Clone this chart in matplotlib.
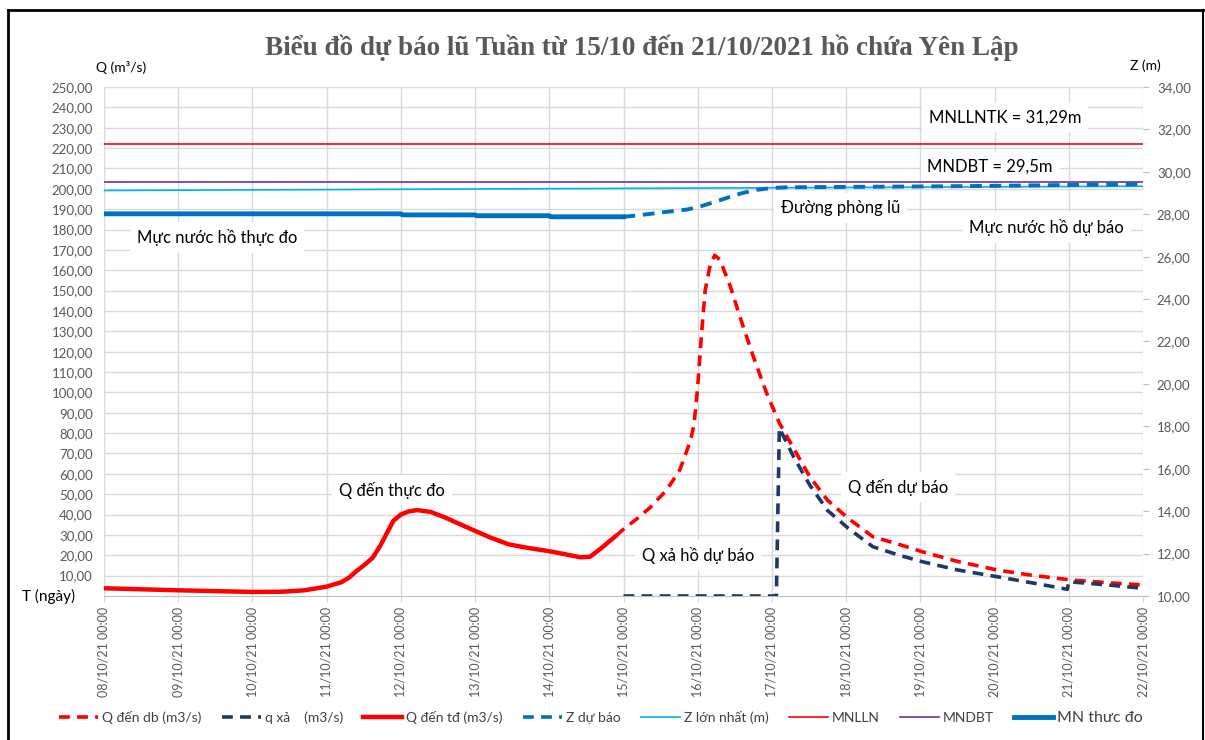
import matplotlib
matplotlib.use("Agg")
import matplotlib.pyplot as plt
from matplotlib.lines import Line2D
import pandas as pd
import numpy as np

# ---------------- data ----------------
START = "2021-10-08 00:00"

# Q đến thực đo (measured inflow) : day offsets, m3/s
q_td_days = [0.0, 0.5, 1.0, 1.5, 2.0, 2.4, 2.7, 3.0, 3.2, 3.3, 3.4, 3.5, 3.62, 3.72, 3.82, 3.9,
             4.0, 4.1, 4.22, 4.4, 4.6, 4.8, 5.0, 5.2, 5.45, 5.7, 6.0, 6.2, 6.42, 6.55, 6.7, 6.9]
q_td_vals = [3.8, 3.3, 2.8, 2.4, 2.0, 2.1, 2.8, 4.6, 6.8, 9.0, 12.2, 15.0, 18.8, 24.5, 31.5, 37.0,
             40.0, 41.5, 42.2, 41.3, 38.5, 35.2, 32.0, 28.8, 25.4, 23.7, 22.0, 20.6, 19.0, 19.3, 23.5, 29.6]

# Q đến dự báo (forecast inflow)
q_db_days = [6.9, 7.0, 7.2, 7.36, 7.58, 7.76, 7.9, 7.95, 8.0, 8.05, 8.1, 8.17, 8.23, 8.3, 8.44,
             8.57, 8.75, 8.93, 9.1, 9.3, 9.51, 9.75, 10.03, 10.36, 10.7, 11.02, 11.5, 12.03,
             12.5, 13.03, 13.5, 14.0]
q_db_vals = [29.6, 32.8, 38.5, 43.5, 52.0, 62.0, 76.0, 84.0, 103.0, 128.0, 150.0, 163.0, 167.4,
             165.0, 152.0, 137.0, 117.5, 99.5, 85.0, 72.0, 58.6, 47.0, 38.1, 29.1, 25.5, 21.8,
             17.0, 12.8, 10.2, 7.9, 6.6, 5.4]

# q xả (forecast discharge)
q_xa_days = [7.0, 9.06, 9.1, 9.29, 9.51, 9.75, 10.03, 10.36, 10.7, 11.02, 11.5, 12.03, 12.5,
             12.98, 13.0, 13.5, 14.0]
q_xa_vals = [0.0, 0.0, 82.5, 68.5, 54.5, 42.0, 33.2, 24.2, 20.2, 16.9, 12.8, 9.5, 6.5,
             3.3, 7.0, 5.5, 3.8]

# MN thực đo (measured water level, m)
z_td_days = [0.0, 4.0, 4.02, 5.0, 5.02, 6.0, 6.02, 7.0]
z_td_vals = [28.02, 28.02, 27.97, 27.97, 27.93, 27.93, 27.88, 27.88]

# Z dự báo (forecast water level, m)
z_db_days = [7.0, 7.2, 7.5, 7.85, 8.0, 8.2, 8.4, 8.6, 8.8, 9.0, 9.2, 10.0, 11.0, 12.0, 13.0, 14.0]
z_db_vals = [27.88, 27.95, 28.08, 28.22, 28.33, 28.55, 28.78, 29.0, 29.15, 29.24, 29.27, 29.29,
             29.31, 29.34, 29.38, 29.42]

# Z lớn nhất (flood-control line)
z_max_days = [0.0, 14.0]
z_max_vals = [29.12, 29.32]

MNLLN = 31.29
MNDBT = 29.5

q_ticks = list(range(0, 251, 10))
z_ticks = list(range(10, 35, 2))
date_ticks_days = list(range(0, 15))

# ---------------- helpers ----------------
t0 = pd.Timestamp(START)
def to_dt(days):
    return t0 + pd.to_timedelta(np.array(days, dtype=float), unit="D")

def vn(v):
    return f"{v:.2f}".replace(".", ",")

# ---------------- figure ----------------
SANS = ["Lato", "DejaVu Sans"]
GRAY = "#595959"
plt.rcParams["font.family"] = SANS

fig = plt.figure(figsize=(12.05, 7.4), dpi=100)
ax2 = fig.add_axes([104/1205, 1-596/740, (1143-104)/1205, (596-87)/740])
ax = ax2.twinx()
# ax = left (Q) axis drawn on top, ax2 = right (Z) axis
ax.yaxis.tick_left()
ax.yaxis.set_label_position("left")
ax2.yaxis.tick_right()
ax2.yaxis.set_label_position("right")

# outer frame (left, top, right)
fig.add_artist(Line2D([8/1205, 8/1205], [0, 1-10/740], transform=fig.transFigure, color="black", lw=2))
fig.add_artist(Line2D([8/1205, 1203/1205], [1-10/740, 1-10/740], transform=fig.transFigure, color="black", lw=2))
fig.add_artist(Line2D([1203/1205, 1203/1205], [0, 1-10/740], transform=fig.transFigure, color="black", lw=1.5))

xmin, xmax = to_dt([0])[0], to_dt([14])[0]
ax2.set_xlim(xmin, xmax)
ax.set_ylim(0, 250)
ax2.set_ylim(10, 34)

# grid (drawn on the bottom axes)
ax2.set_xticks(to_dt(date_ticks_days))
ax2.set_xticklabels([d.strftime("%d/%m/%y %H:%M") for d in to_dt(date_ticks_days)],
                    rotation=90, color=GRAY, fontsize=9)
ax2.xaxis.grid(True, color="#D9D9D9", lw=1)
for q in q_ticks[1:]:
    ax2.axhline(10 + q * 24 / 250, color="#D9D9D9", lw=1, zorder=0)
ax2.set_axisbelow(True)
ax2.tick_params(axis="x", length=4, color="#D9D9D9", pad=4)

ax.set_yticks(q_ticks)
ax.set_yticklabels(["" if v == 0 else vn(v) for v in q_ticks], color=GRAY, fontsize=9.5)
ax.tick_params(axis="y", length=0, pad=8)
ax2.set_yticks(z_ticks)
ax2.set_yticklabels([vn(v) for v in z_ticks], color=GRAY, fontsize=9.5)
ax2.tick_params(axis="y", length=4, color="#BFBFBF", pad=6)

for a in (ax, ax2):
    for s in ["top", "left", "right", "bottom"]:
        a.spines[s].set_visible(False)
ax2.spines["bottom"].set_visible(True)
ax2.spines["bottom"].set_color("#BFBFBF")

# ---------------- series ----------------
ax2.axhline(MNLLN, color="#FF0000", lw=1.2, zorder=3)
ax2.axhline(MNDBT, color="#7030A0", lw=1.2, zorder=3)
ax2.plot(to_dt(z_max_days), z_max_vals, color="#00B0F0", lw=1.2, zorder=3)
ax2.plot(to_dt(z_td_days), z_td_vals, color="#0070C0", lw=3.5, zorder=4)
ax2.plot(to_dt(z_db_days), z_db_vals, color="#0070C0", lw=2.8, ls=(0, (3, 2)), zorder=4)

ax.plot(to_dt(q_td_days), q_td_vals, color="#FF0000", lw=3.2, zorder=5, solid_capstyle="round")
ax.plot(to_dt(q_db_days), q_db_vals, color="#FF0000", lw=2.6, ls=(0, (3, 2)), zorder=5)
ax.plot(to_dt(q_xa_days), q_xa_vals, color="#1F3864", lw=2.6, ls=(0, (3, 2)), zorder=5)

# ---------------- texts ----------------
fig.text(642/1205, 1-48/740, "Biểu đồ dự báo lũ Tuần từ 15/10 đến 21/10/2021 hồ chứa Yên Lập",
         ha="center", va="center", fontsize=19.5, fontweight="bold", color=GRAY,
         family=["Liberation Serif", "DejaVu Serif"])
fig.text(96/1205, 1-68/740, "Q (m³/s)", ha="left", va="center", fontsize=10, color="black")
fig.text(1130/1205, 1-66/740, "Z (m)", ha="left", va="center", fontsize=10, color="black")
fig.text(22/1205, 1-596/740, "T (ngày)", ha="left", va="center", fontsize=11, color="black")

box = dict(boxstyle="square,pad=0.4", fc="white", ec="none")
def label(xd, qy, s):
    ax.text(to_dt([xd])[0], qy, s, ha="center", va="center", fontsize=12, color="black",
            bbox=box, zorder=10)

label(12.14, 235, "MNLLNTK = 31,29m")
label(11.94, 211, "MNDBT = 29,5m")
label(9.92, 190.5, "Đường phòng lũ")
label(12.7, 181, "Mực nước hồ dự báo")
label(1.52, 176, "Mực nước hồ thực đo")
label(3.88, 52, "Q đến thực đo")
label(10.7, 53.5, "Q đến dự báo")
label(8.0, 20, "Q xả hồ dự báo")

# ---------------- legend ----------------
handles = [
    Line2D([], [], color="#FF0000", lw=2.6, ls=(0, (3, 2))),
    Line2D([], [], color="#1F3864", lw=2.6, ls=(0, (3, 2))),
    Line2D([], [], color="#FF0000", lw=3.2),
    Line2D([], [], color="#0070C0", lw=2.6, ls=(0, (3, 2))),
    Line2D([], [], color="#00B0F0", lw=1.2),
    Line2D([], [], color="#FF0000", lw=1.2),
    Line2D([], [], color="#7030A0", lw=1.2),
    Line2D([], [], color="#0070C0", lw=3.5),
]
labels = ["Q đến db (m3/s)", "q xả    (m3/s)", "Q đến tđ (m3/s)", "Z dự báo",
          "Z lớn nhất (m)", "MNLLN", "MNDBT", "MN thưc đo"]
leg = fig.legend(handles, labels, loc="center", bbox_to_anchor=(601/1205, 1-718/740), ncol=8,
                 frameon=False, fontsize=10, handlelength=2.8, handletextpad=0.3, columnspacing=1.45)
for t in leg.get_texts():
    t.set_color("#404040")
leg.get_texts()[-1].set_fontsize(11.5)

fig.savefig("out.png", dpi=100)
